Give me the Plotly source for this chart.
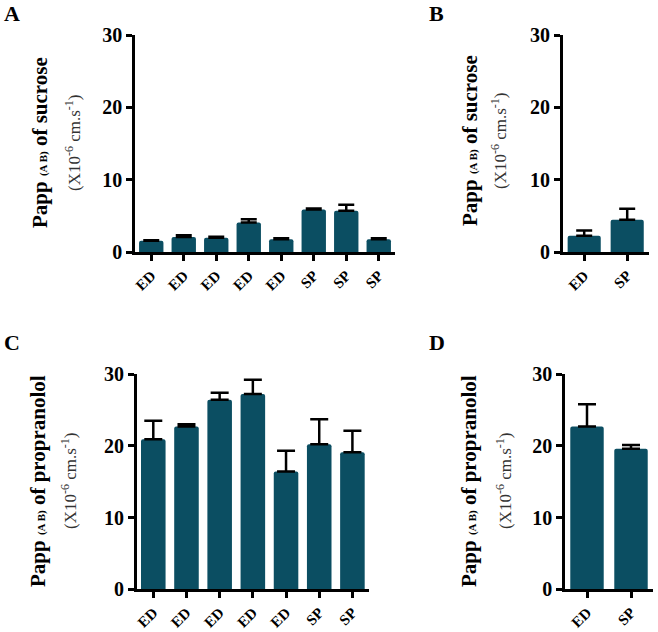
import plotly.graph_objects as go

# ---------------- data ----------------
labels_A = ["ED", "ED", "ED", "ED", "ED", "SP", "SP", "SP"]
sucrose_A = [1.6, 2.1, 2.0, 4.1, 1.8, 5.9, 5.75, 1.8]
sucrose_A_err = [0.05, 0.25, 0.15, 0.45, 0.15, 0.15, 0.8, 0.15]

labels_B = ["ED", "SP"]
sucrose_B = [2.3, 4.5]
sucrose_B_err = [0.7, 1.5]

labels_C = ["ED", "ED", "ED", "ED", "ED", "SP", "SP"]
propranolol_C = [20.9, 22.7, 26.4, 27.2, 16.4, 20.2, 19.1]
propranolol_C_err = [2.6, 0.3, 1.0, 2.0, 2.9, 3.5, 3.0]

labels_D = ["ED", "SP"]
propranolol_D = [22.7, 19.6]
propranolol_D_err = [3.1, 0.5]

y_ticks = [0, 10, 20, 30]

# ---------------- style ----------------
W, H = 658, 632
BAR = "#0b4e62"
SERIF = "Liberation Serif"


def px_x(x):
    return x / W


def px_y(y):
    return 1 - y / H


panels = [
    # name, labels, values, errors, x-domain px, y-domain px (top, bottom), bar width
    ("A", labels_A, sucrose_A, sucrose_A_err, (135, 395), (35, 252.3), 0.75),
    ("B", labels_B, sucrose_B, sucrose_B_err, (562.7, 648.7), (35, 252.3), 0.77),
    ("C", labels_C, propranolol_C, propranolol_C_err, (136.7, 369), (374, 589.3), 0.74),
    ("D", labels_D, propranolol_D, propranolol_D_err, (565, 653), (374, 589.3), 0.76),
]

fig = go.Figure()
layout = {}
for i, (name, labs, vals, errs, (x0, x1), (ytop, ybot), bw) in enumerate(panels):
    k = "" if i == 0 else str(i + 1)
    xs = list(range(len(vals)))
    fig.add_trace(go.Bar(
        x=xs, y=vals, width=bw,
        marker=dict(color=BAR, line=dict(width=0)),
        error_y=dict(type="data", array=errs, arrayminus=[0] * len(errs),
                     symmetric=False, color="black", thickness=2.5,
                     width=8 if name in ("A", "B") else 9),
        xaxis="x" + k, yaxis="y" + k, showlegend=False,
        hoverinfo="skip",
    ))
    layout["xaxis" + k] = dict(
        domain=[px_x(x0), px_x(x1)], anchor="y" + k,
        range=[-0.5, len(vals) - 0.5], automargin=False,
        tickmode="array", tickvals=xs, ticktext=labs, tickangle=-45,
        ticks="outside", ticklen=6, tickwidth=2.5, tickcolor="black",
        showline=True, linewidth=2.5, linecolor="black",
        showgrid=False, zeroline=False,
        tickfont=dict(family=SERIF, size=15, color="black", weight="bold"),
    )
    layout["yaxis" + k] = dict(
        domain=[px_y(ybot), px_y(ytop)], anchor="x" + k,
        range=[0, 30], tickmode="array", tickvals=y_ticks, automargin=False,
        ticks="outside", ticklen=6, tickwidth=2.5, tickcolor="black",
        showline=True, linewidth=2.5, linecolor="black",
        showgrid=False, zeroline=False,
        tickfont=dict(family=SERIF, size=20, color="black", weight="bold"),
    )


def sz(text, size):
    return f"<span style='font-size:{size}px'>{text}</span>"


def main_title(substance):
    return sz("Papp ", 21) + sz("(A B)", 11) + sz(" of " + substance, 21)


sub_line = (sz("(X10", 17) + "<sup>" + sz("-6", 12) + "</sup>"
            + sz(" cm.s", 17) + "<sup>" + sz("-1", 12) + "</sup>" + sz(")", 17))

annotations = []
titles = [
    (main_title("sucrose"), 40, 73, 143),
    (main_title("sucrose"), 470, 499, 141),
    (main_title("propranolol"), 38, 69, 481),
    (main_title("propranolol"), 469, 504, 481),
]
for main, xm, xs_, yc in titles:
    annotations.append(dict(
        text=main, x=px_x(xm), y=px_y(yc), xref="paper", yref="paper",
        xanchor="center", yanchor="middle", textangle=-90, showarrow=False,
        font=dict(family=SERIF, size=21, color="black", weight="bold"),
    ))
    annotations.append(dict(
        text=sub_line, x=px_x(xs_), y=px_y(yc), xref="paper", yref="paper",
        xanchor="center", yanchor="middle", textangle=-90, showarrow=False,
        font=dict(family=SERIF, size=17, color="#333333"),
    ))

for letter, lx, ly in [("A", 2, 13), ("B", 427, 13), ("C", 2, 342), ("D", 427, 342)]:
    annotations.append(dict(
        text=letter, x=px_x(lx), y=px_y(ly), xref="paper", yref="paper",
        xanchor="left", yanchor="middle", showarrow=False,
        font=dict(family=SERIF, size=22, color="black", weight="bold"),
    ))

fig.update_layout(
    width=W, height=H, autosize=False,
    margin=dict(l=0, r=0, t=0, b=0, pad=0),
    paper_bgcolor="white", plot_bgcolor="white",
    bargap=0.25, barcornerradius=2,
    annotations=annotations,
    **layout,
)

fig.write_html(
    "out.html",
    config={"displayModeBar": False},
    post_script="document.body.style.margin='0';document.body.style.overflow='hidden';",
)
